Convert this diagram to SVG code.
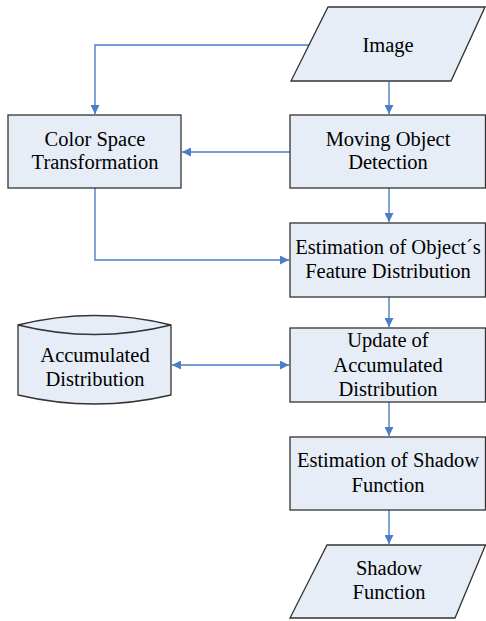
<svg xmlns="http://www.w3.org/2000/svg" width="486" height="621" viewBox="0 0 486 621">
<defs>
<style>
.shape{fill:#E7EDF7;stroke:#333333;stroke-width:1.3}
.con{fill:none;stroke:#4A7EC6;stroke-width:1.4}
</style>
<marker id="ah" viewBox="0 0 10 10" refX="10" refY="5" markerWidth="9" markerHeight="9" markerUnits="userSpaceOnUse" orient="auto-start-reverse">
<path d="M0,0 L10,5 L0,10 Z" fill="#4A7EC6"/>
</marker>
</defs>
<rect width="486" height="621" fill="#FFFFFF"/>
<g id="connectors">
<path class="con" d="M389,82 V114" marker-end="url(#ah)"/>
<path class="con" d="M309,45 H95 V114" marker-end="url(#ah)"/>
<path class="con" d="M290,152 H182" marker-end="url(#ah)"/>
<path class="con" d="M95,188 V260 H289" marker-end="url(#ah)"/>
<path class="con" d="M389,188 V222" marker-end="url(#ah)"/>
<path class="con" d="M389,297 V327" marker-end="url(#ah)"/>
<path class="con" d="M172,365 H289" marker-start="url(#ah)" marker-end="url(#ah)"/>
<path class="con" d="M389,402 V436" marker-end="url(#ah)"/>
<path class="con" d="M389,510 V544" marker-end="url(#ah)"/>
</g>
<g id="image">
<polygon class="shape" points="328,7 485,7 451,81 291,81"/>
<text font-family="Liberation Serif" font-size="20.5" text-anchor="middle" x="388" y="52">Image</text>
</g>
<g id="color-space">
<rect class="shape" x="8" y="115" width="173" height="73"/>
<text font-family="Liberation Serif" font-size="20.5" text-anchor="middle" x="95" y="146">Color Space</text>
<text font-family="Liberation Serif" font-size="20.5" text-anchor="middle" x="95" y="169">Transformation</text>
</g>
<g id="moving-object">
<rect class="shape" x="290" y="115" width="195.5" height="73"/>
<text font-family="Liberation Serif" font-size="20.5" text-anchor="middle" x="388" y="146">Moving Object</text>
<text font-family="Liberation Serif" font-size="20.5" text-anchor="middle" x="388" y="169">Detection</text>
</g>
<g id="estimation-feature">
<rect class="shape" x="290" y="223" width="195.5" height="74"/>
<text font-family="Liberation Serif" font-size="20.5" text-anchor="middle" x="388" y="254">Estimation of Object´s</text>
<text font-family="Liberation Serif" font-size="20.5" text-anchor="middle" x="388" y="278">Feature Distribution</text>
</g>
<g id="accumulated-distribution">
<path class="shape" d="M18,325 Q94.5,306 171,325 V395 Q94.5,413 18,395 Z"/>
<path class="shape" style="fill:none" d="M18,325 Q94.5,344 171,325"/>
<text font-family="Liberation Serif" font-size="20.5" text-anchor="middle" x="95" y="362">Accumulated</text>
<text font-family="Liberation Serif" font-size="20.5" text-anchor="middle" x="95" y="386">Distribution</text>
</g>
<g id="update">
<rect class="shape" x="290" y="328" width="195.5" height="74"/>
<text font-family="Liberation Serif" font-size="20.5" text-anchor="middle" x="388" y="347">Update of</text>
<text font-family="Liberation Serif" font-size="20.5" text-anchor="middle" x="388" y="372">Accumulated</text>
<text font-family="Liberation Serif" font-size="20.5" text-anchor="middle" x="388" y="396">Distribution</text>
</g>
<g id="estimation-shadow">
<rect class="shape" x="290" y="437" width="195.5" height="73"/>
<text font-family="Liberation Serif" font-size="20.5" text-anchor="middle" x="388" y="467">Estimation of Shadow</text>
<text font-family="Liberation Serif" font-size="20.5" text-anchor="middle" x="388" y="492">Function</text>
</g>
<g id="shadow-function">
<polygon class="shape" points="327,545 485.5,545 455,618 290,618"/>
<text font-family="Liberation Serif" font-size="20.5" text-anchor="middle" x="389" y="575">Shadow</text>
<text font-family="Liberation Serif" font-size="20.5" text-anchor="middle" x="389" y="599">Function</text>
</g>
</svg>
